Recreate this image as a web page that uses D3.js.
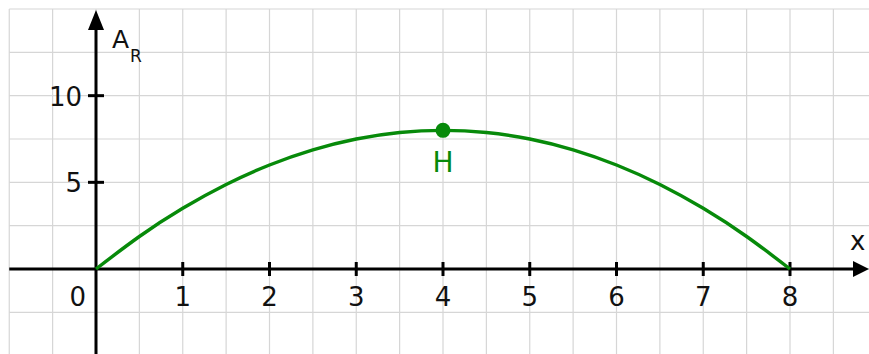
<!DOCTYPE html>
<html>
<head>
<meta charset="utf-8">
<script src="https://cdn.jsdelivr.net/npm/d3@7"></script>
<style>
  html, body { margin: 0; padding: 0; background: #fff; }
  svg { display: block; font-family: "DejaVu Sans", sans-serif; }
</style>
</head>
<body>
<svg id="chart" width="869" height="354"></svg>
<script>
// Curve A_R(x) sampled every half unit
const xValues = [0, 0.5, 1, 1.5, 2, 2.5, 3, 3.5, 4, 4.5, 5, 5.5, 6, 6.5, 7, 7.5, 8];
const aValues = [0, 1.875, 3.5, 4.875, 6, 6.875, 7.5, 7.875, 8, 7.875, 7.5, 6.875, 6, 4.875, 3.5, 1.875, 0];

// Maximum point H
const peakX = [4];
const peakY = [8];
const peakLabel = ["H"];

// Axis tick labels
const xTicks = [1, 2, 3, 4, 5, 6, 7, 8];
const yTicks = [5, 10];
const xGrid = d3.range(-1, 9, 0.5);
const yGrid = d3.range(-5, 15.01, 2.5);

const W = 869, H = 354;
const svg = d3.select("#chart");

const x = d3.scaleLinear().domain([-1, 8]).range([9.25, 790]);
const y = d3.scaleLinear().domain([15, 0]).range([9, 269]);

const green = "#078a0a";
const ink = "#111";

// grid
const grid = svg.append("g").attr("stroke", "#d6d6d6").attr("stroke-width", 1.2);
grid.selectAll("line.v").data(xGrid).join("line")
  .attr("x1", d => x(d)).attr("x2", d => x(d))
  .attr("y1", y(15)).attr("y2", H);
grid.selectAll("line.h").data(yGrid.filter(d => y(d) < H)).join("line")
  .attr("x1", x(-1)).attr("x2", W)
  .attr("y1", d => y(d)).attr("y2", d => y(d));

// axes
const axes = svg.append("g").attr("stroke", "#000").attr("stroke-width", 3);
axes.append("line").attr("x1", x(-1)).attr("x2", W - 12).attr("y1", y(0)).attr("y2", y(0));
axes.append("line").attr("x1", x(0)).attr("x2", x(0)).attr("y1", 26).attr("y2", H);
svg.append("path").attr("fill", "#000")
  .attr("d", `M${W},${y(0)} L${W - 16},${y(0) - 8} L${W - 16},${y(0) + 8} Z`);
svg.append("path").attr("fill", "#000")
  .attr("d", `M${x(0)},10 L${x(0) - 8},30 L${x(0) + 8},30 Z`);

// ticks
axes.selectAll("line.xt").data(xTicks).join("line")
  .attr("x1", d => x(d)).attr("x2", d => x(d))
  .attr("y1", y(0) - 7).attr("y2", y(0) + 7);
axes.selectAll("line.yt").data(yTicks).join("line")
  .attr("x1", x(0) - 8).attr("x2", x(0) + 8)
  .attr("y1", d => y(d)).attr("y2", d => y(d));

// tick labels
svg.selectAll("text.xl").data(xTicks).join("text")
  .attr("x", d => x(d)).attr("y", y(0) + 37)
  .attr("text-anchor", "middle").attr("font-size", 26).attr("fill", ink)
  .text(d => d);
svg.selectAll("text.yl").data(yTicks).join("text")
  .attr("x", x(0) - 14).attr("y", d => y(d) + 10)
  .attr("text-anchor", "end").attr("font-size", 26).attr("fill", ink)
  .text(d => d);
svg.append("text").attr("x", x(0) - 10).attr("y", y(0) + 37)
  .attr("text-anchor", "end").attr("font-size", 26).attr("fill", ink).text("0");

// axis names
svg.append("text").attr("x", 850).attr("y", 250).attr("font-size", 26).attr("fill", ink).text("x");
const aLabel = svg.append("text").attr("x", 112).attr("y", 48).attr("font-size", 25).attr("fill", ink);
aLabel.append("tspan").text("A");
aLabel.append("tspan").attr("font-size", 17).attr("dx", 1).attr("dy", 14).text("R");

// curve
const pts = xValues.map((v, i) => [v, aValues[i]]);
svg.append("path").datum(pts)
  .attr("fill", "none").attr("stroke", green).attr("stroke-width", 3.4)
  .attr("d", d3.line().x(d => x(d[0])).y(d => y(d[1])).curve(d3.curveNatural));

// peak point
svg.selectAll("circle.peak").data(peakX).join("circle")
  .attr("cx", d => x(d)).attr("cy", (d, i) => y(peakY[i])).attr("r", 7.5).attr("fill", green);
svg.selectAll("text.peak").data(peakX).join("text")
  .attr("x", d => x(d)).attr("y", (d, i) => y(peakY[i]) + 42)
  .attr("text-anchor", "middle").attr("font-size", 28).attr("fill", green)
  .text((d, i) => peakLabel[i]);
</script>
</body>
</html>
